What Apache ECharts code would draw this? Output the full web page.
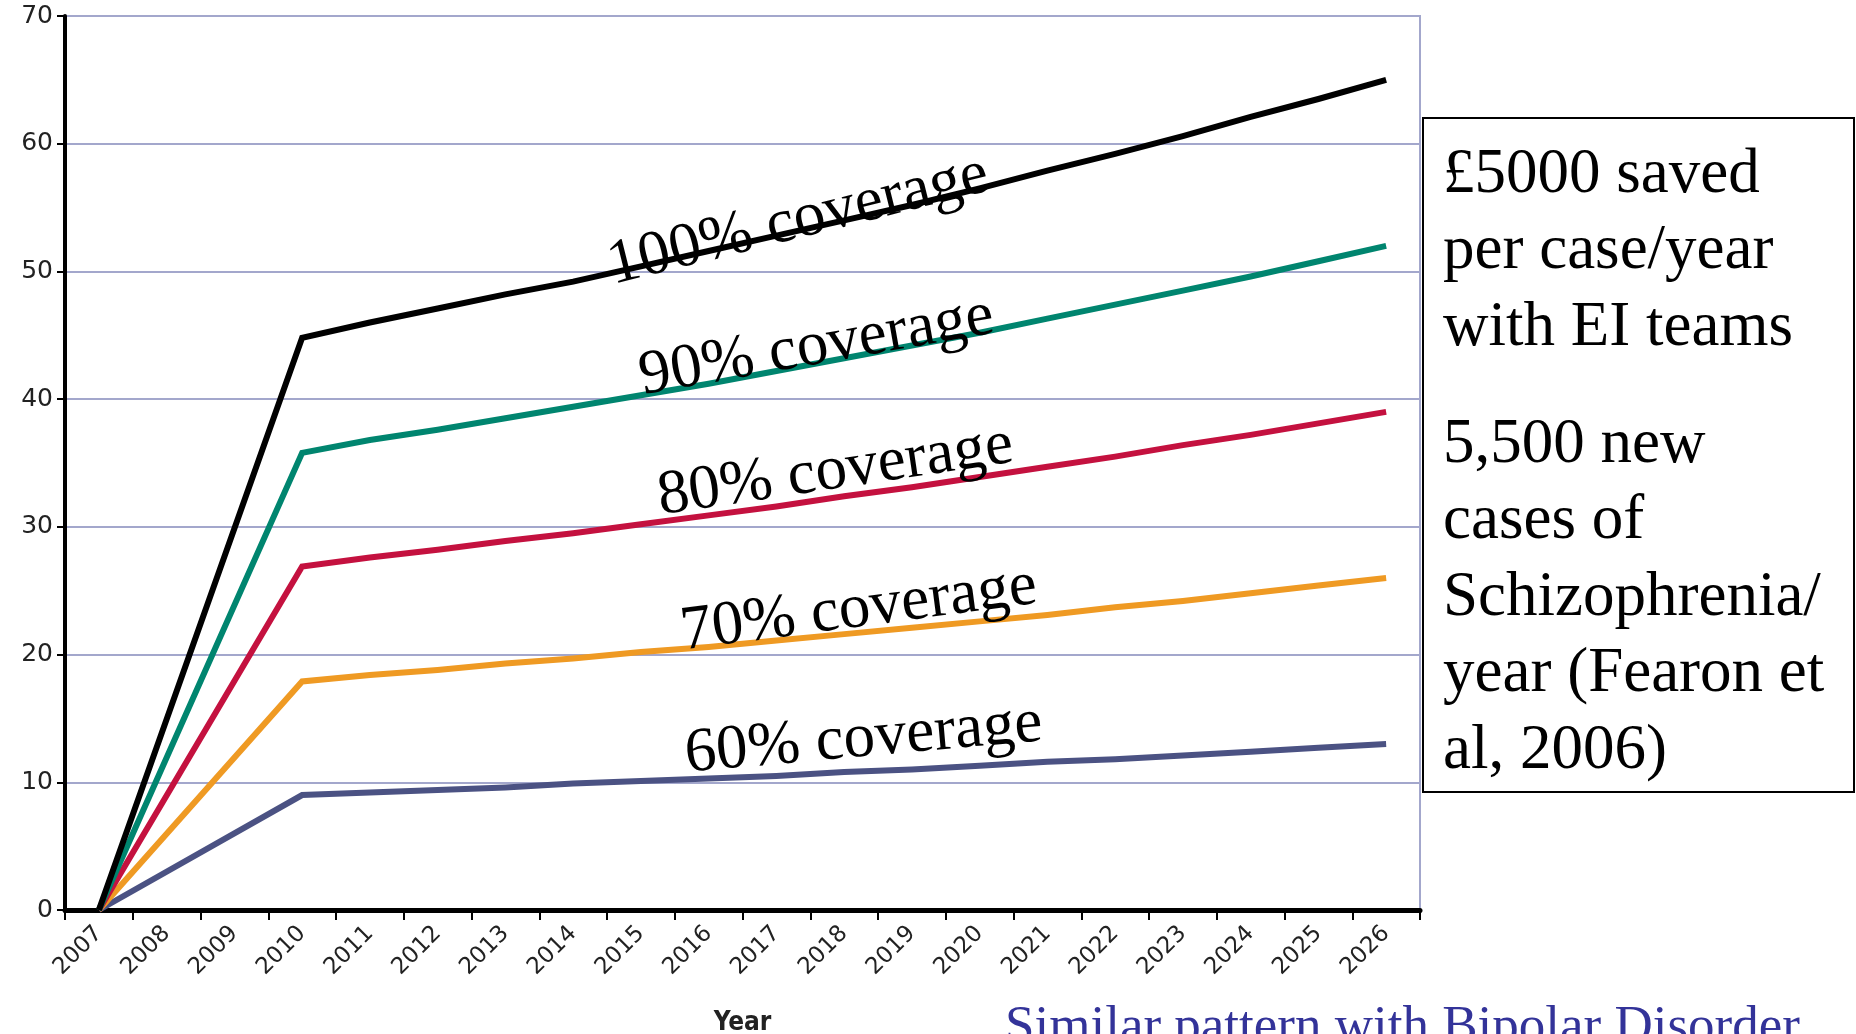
<!DOCTYPE html>
<html>
<head>
<meta charset="utf-8">
<title>Savings with Early Intervention coverage</title>
<script src="https://cdn.jsdelivr.net/npm/echarts@6/dist/echarts.min.js"></script>
<style>
  html, body { margin: 0; padding: 0; background: #ffffff; }
  #chart { width: 1856px; height: 1034px; }
</style>
</head>
<body>
<div id="chart"></div>
<script>
// Projection years on the category axis
const years = ['2007', '2008', '2009', '2010', '2011', '2012', '2013', '2014', '2015', '2016',
               '2017', '2018', '2019', '2020', '2021', '2022', '2023', '2024', '2025', '2026'];

// Savings by level of EI team coverage (2008 and 2009 are not plotted; the line runs straight to 2010)
const cov100 = [0, null, null, 44.8, 46.0, 47.1, 48.2, 49.2, 50.4, 51.6, 52.8, 54.0, 55.2, 56.5, 57.9, 59.2, 60.6, 62.1, 63.5, 65.0];
const cov90  = [0, null, null, 35.8, 36.8, 37.6, 38.5, 39.4, 40.3, 41.2, 42.2, 43.2, 44.2, 45.2, 46.3, 47.4, 48.5, 49.6, 50.8, 52.0];
const cov80  = [0, null, null, 26.9, 27.6, 28.2, 28.9, 29.5, 30.2, 30.9, 31.6, 32.4, 33.1, 33.9, 34.7, 35.5, 36.4, 37.2, 38.1, 39.0];
const cov70  = [0, null, null, 17.9, 18.4, 18.8, 19.3, 19.7, 20.2, 20.6, 21.1, 21.6, 22.1, 22.6, 23.1, 23.7, 24.2, 24.8, 25.4, 26.0];
const cov60  = [0, null, null, 9.0, 9.2, 9.4, 9.6, 9.9, 10.1, 10.3, 10.5, 10.8, 11.0, 11.3, 11.6, 11.8, 12.1, 12.4, 12.7, 13.0];

const seriesNames = ['100% coverage', '90% coverage', '80% coverage', '70% coverage', '60% coverage'];
const seriesColors = ['#000000', '#00856f', '#c4113f', '#ef9a23', '#4b5283'];
const seriesData = [cov100, cov90, cov80, cov70, cov60];

// Text panel
const panelPara1 = ['£5000 saved', 'per case/year', 'with EI teams'];
const panelPara2 = ['5,500 new', 'cases of', 'Schizophrenia/', 'year (Fearon et', 'al, 2006)'];
const footNote = 'Similar pattern with Bipolar Disorder';

const chart = echarts.init(document.getElementById('chart'), null, { renderer: 'canvas' });

const gridColor = '#a3a7cc';
const serif = '"Liberation Serif", "Times New Roman", serif';
const tickFont = '"DejaVu Sans", "Open Sans", sans-serif';

// Slanted coverage captions sitting on each curve: [x, y, angle in degrees]
const captionPlacement = [
  [609, 268, 14],
  [640, 378, 10],
  [658, 498, 8.5],
  [681, 633, 7.5],
  [685, 755, 5]
];

const graphics = [
  {
    type: 'rect',
    shape: { x: 1423, y: 118, width: 431, height: 674 },
    style: { fill: '#ffffff', stroke: '#000000', lineWidth: 2 },
    z: 10
  },
  {
    type: 'text', x: 1443, y: 137, z: 11,
    style: { text: panelPara1.join('\n'), font: '63px ' + serif, fill: '#000000',
             lineHeight: 76.5, align: 'left', verticalAlign: 'top' }
  },
  {
    type: 'text', x: 1443, y: 407, z: 11,
    style: { text: panelPara2.join('\n'), font: '63px ' + serif, fill: '#000000',
             lineHeight: 76.5, align: 'left', verticalAlign: 'top' }
  },
  {
    type: 'text', x: 1005, y: 1002, z: 11,
    style: { text: footNote, font: '53px ' + serif, fill: '#333399',
             align: 'left', verticalAlign: 'top' }
  }
];

seriesNames.forEach(function (name, i) {
  const p = captionPlacement[i];
  graphics.push({
    type: 'text', x: p[0], y: p[1], rotation: p[2] * Math.PI / 180, z: 12,
    style: { text: name, font: '63px ' + serif, fill: '#000000', align: 'left', verticalAlign: 'middle' }
  });
});

const option = {
  backgroundColor: '#ffffff',
  animation: false,
  grid: {
    left: 65, right: 436, top: 16, bottom: 124,
    containLabel: false,
    outerBoundsMode: 'none',
    show: true,
    borderColor: gridColor,
    borderWidth: 2,
    backgroundColor: 'transparent'
  },
  xAxis: {
    type: 'category',
    data: years,
    boundaryGap: true,
    name: 'Year',
    nameLocation: 'middle',
    nameGap: 100,
    nameTextStyle: {
      fontFamily: '"DejaVu Sans Condensed", "Liberation Sans Narrow", sans-serif',
      fontWeight: 'bold', fontSize: 26, color: '#222222'
    },
    axisLine: { lineStyle: { color: '#000000', width: 5 } },
    axisTick: { show: true, length: 10, lineStyle: { color: '#000000', width: 2 } },
    axisLabel: {
      interval: 0, rotate: 45, margin: 20,
      fontFamily: tickFont, fontSize: 23, color: '#222222'
    },
    splitLine: { show: false }
  },
  yAxis: {
    type: 'value',
    min: 0, max: 70, interval: 10,
    axisLine: { show: true, lineStyle: { color: '#000000', width: 4 } },
    axisTick: { show: true, length: 8, lineStyle: { color: '#000000', width: 2 } },
    axisLabel: { margin: 12, fontFamily: tickFont, fontSize: 25, color: '#222222' },
    splitLine: { show: true, lineStyle: { color: gridColor, width: 2 } }
  },
  series: seriesNames.map(function (name, i) {
    return {
      name: name,
      type: 'line',
      data: seriesData[i],
      connectNulls: true,
      showSymbol: false,
      symbol: 'none',
      smooth: false,
      z: 5 - i,
      lineStyle: { color: seriesColors[i], width: 6, join: 'miter', cap: 'butt' }
    };
  }),
  graphic: graphics
};

chart.setOption(option);
</script>
</body>
</html>
